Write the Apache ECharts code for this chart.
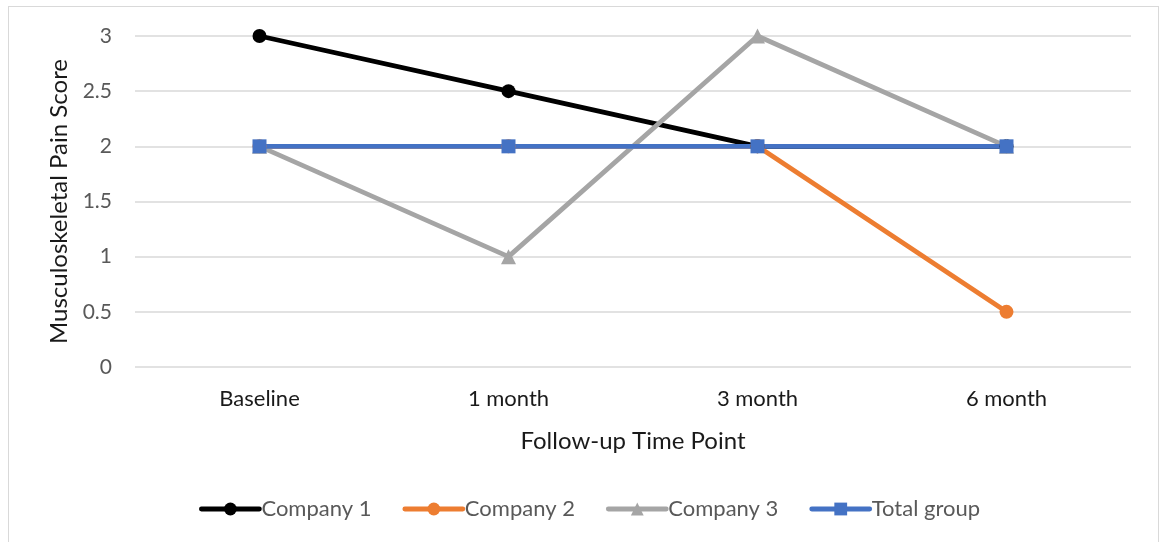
<!DOCTYPE html>
<html>
<head>
<meta charset="utf-8">
<script src="https://cdn.jsdelivr.net/npm/echarts@6/dist/echarts.min.js"></script>
<style>
  html, body { margin: 0; padding: 0; background: #fff; }
  #frame { position: absolute; left: 8px; top: 6px; width: 1151px; height: 545px; border: 1.5px solid #d9d9d9; box-sizing: border-box; }
  #chart { position: absolute; left: 0; top: 0; width: 1162px; height: 542px; }
</style>
</head>
<body>
<div id="frame"></div>
<div id="chart"></div>
<script>
const timePoints = ['Baseline', '1 month', '3 month', '6 month'];
const company1 = [3, 2.5, 2, 2];
const company2 = [2, 2, 2, 0.5];
const company3 = [2, 1, 3, 2];
const totalGroup = [2, 2, 2, 2];

const FONT = 'Lato, "Open Sans", sans-serif';

function lineSeries(name, data, color, symbol, size) {
  return {
    name: name,
    type: 'line',
    data: data,
    symbol: symbol,
    symbolSize: size,
    showSymbol: true,
    lineStyle: { color: color, width: 4.8 },
    itemStyle: { color: color },
    emphasis: { disabled: true },
    animation: false
  };
}

const chart = echarts.init(document.getElementById('chart'), null, { renderer: 'canvas' });
chart.setOption({
  backgroundColor: 'transparent',
  grid: { left: 135, right: 31, top: 36, bottom: 175 },
  xAxis: {
    type: 'category',
    data: timePoints,
    boundaryGap: true,
    axisLine: { show: false },
    axisTick: { show: false },
    axisLabel: { color: '#1a1a1a', fontFamily: FONT, fontSize: 22, margin: 21 },
    name: 'Follow-up Time Point',
    nameLocation: 'middle',
    nameGap: 62,
    nameTextStyle: { color: '#1a1a1a', fontFamily: FONT, fontSize: 24 }
  },
  yAxis: {
    type: 'value',
    min: 0,
    max: 3,
    interval: 0.5,
    axisLine: { show: false },
    axisTick: { show: false },
    splitLine: { lineStyle: { color: '#d9d9d9', width: 1.5 } },
    axisLabel: { color: '#595959', fontFamily: FONT, fontSize: 21, margin: 23 },
    name: 'Musculoskeletal Pain Score',
    nameLocation: 'middle',
    nameGap: 64,
    nameTextStyle: { color: '#1a1a1a', fontFamily: FONT, fontSize: 24 }
  },
  legend: {
    bottom: 17,
    left: 194,
    itemWidth: 58,
    itemHeight: 16,
    itemGap: 31,
    lineStyle: { width: 4.8, cap: 'round' },
    textStyle: { color: '#595959', fontFamily: FONT, fontSize: 22, padding: [0, 0, 0, -3] },
    data: ['Company 1', 'Company 2', 'Company 3', 'Total group']
  },
  series: [
    lineSeries('Company 1', company1, '#000000', 'circle', 14),
    lineSeries('Company 2', company2, '#ed7d31', 'circle', 14),
    lineSeries('Company 3', company3, '#a5a5a5', 'triangle', 15),
    lineSeries('Total group', totalGroup, '#4472c4', 'rect', 14)
  ]
});
</script>
</body>
</html>
